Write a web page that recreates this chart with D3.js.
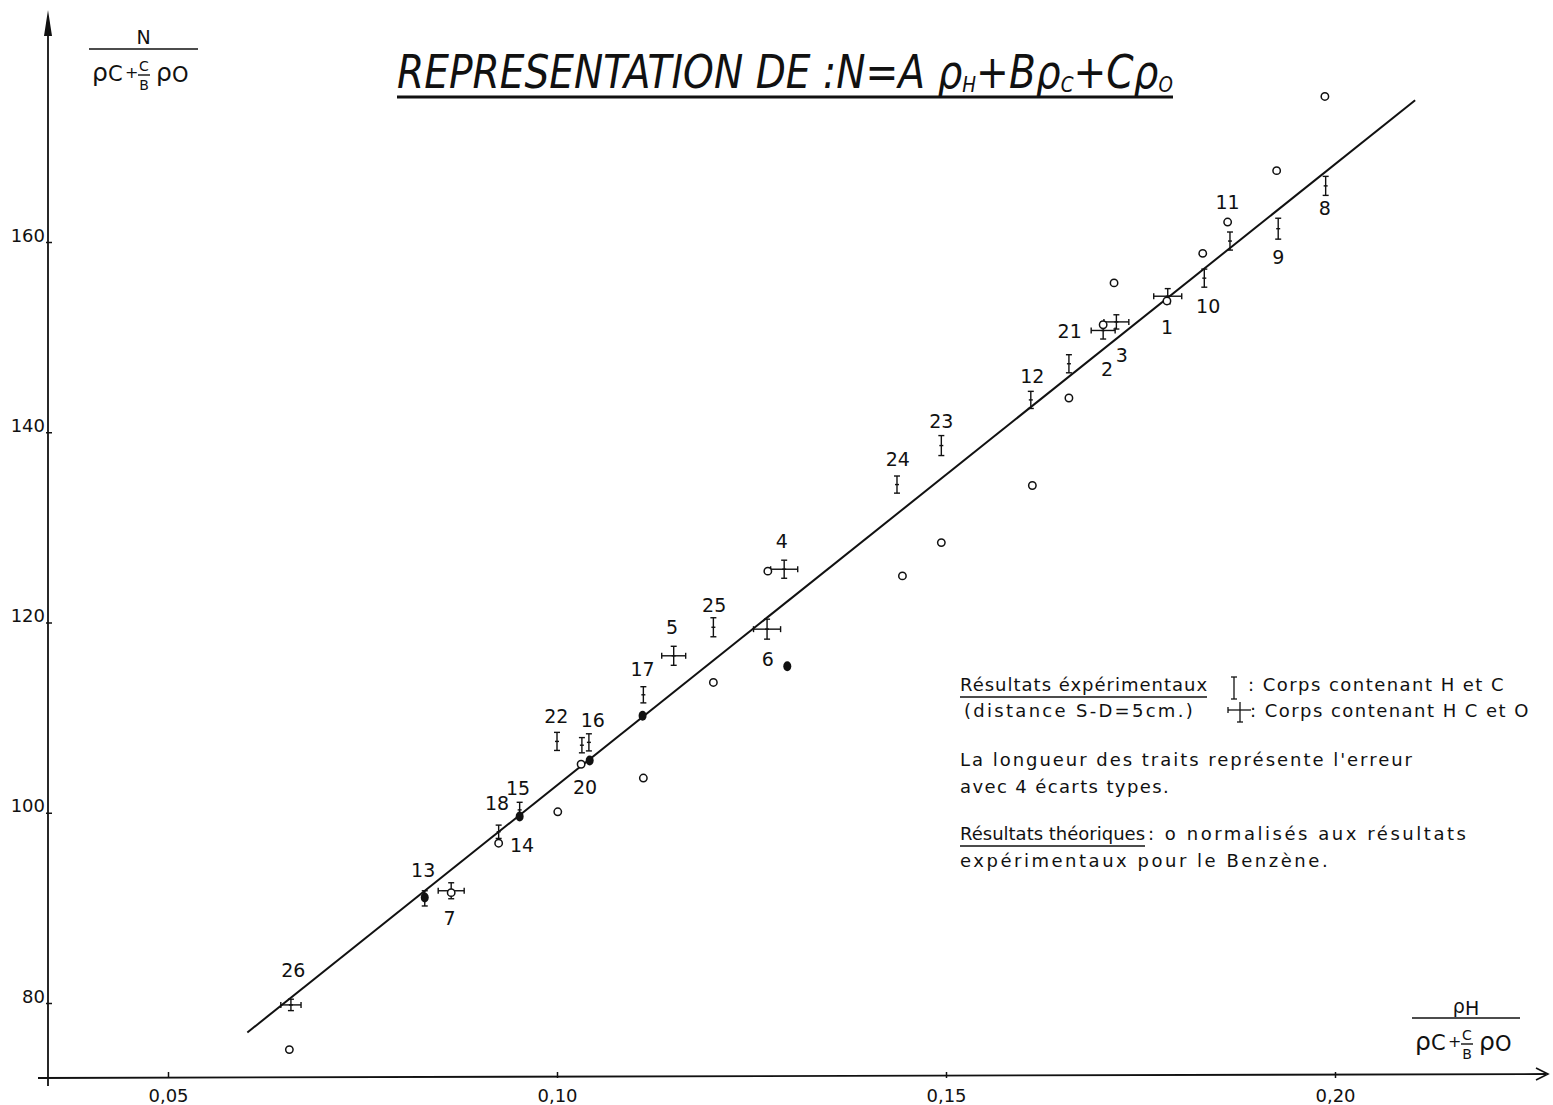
<!DOCTYPE html>
<html>
<head>
<meta charset="utf-8">
<script src="https://cdn.jsdelivr.net/npm/d3@7"></script>
<style>
  body { margin: 0; background: #fff; }
  svg { display: block; }
  text { font-family: "DejaVu Sans", sans-serif; fill: #111; }
</style>
</head>
<body>
<script>
// ---- data -------------------------------------------------------------
// Axis ticks
const xTicks = [0.05, 0.10, 0.15, 0.20];
const yTicks = [80, 100, 120, 140, 160];

// Experimental results, compounds containing H and C: [x, y, half error in y]
const expHC = [
  [0.0830, 91.0, 0.8],
  [0.0925, 98.0, 0.7],
  [0.0952, 100.3, 0.8],
  [0.1000, 107.5, 0.95],
  [0.1032, 107.1, 0.8],
  [0.1041, 107.4, 0.9],
  [0.1111, 112.4, 0.85],
  [0.1201, 119.5, 1.0],
  [0.1437, 134.5, 0.9],
  [0.1494, 138.6, 1.05],
  [0.1609, 143.4, 0.9],
  [0.1658, 147.2, 0.95],
  [0.1832, 156.2, 0.95],
  [0.1865, 160.1, 0.95],
  [0.1927, 161.4, 1.1],
  [0.1988, 165.9, 1.0]
];

// Experimental results, compounds containing H, C and O: [x, y, half error in y, half error in x]
const expHCO = [
  [0.0658, 79.8, 0.6, 0.0013],
  [0.0864, 91.8, 0.84, 0.00167],
  [0.1150, 116.5, 1.0, 0.00154],
  [0.1270, 119.3, 1.05, 0.00174],
  [0.1292, 125.6, 0.95, 0.00174],
  [0.1702, 150.7, 0.9, 0.00154],
  [0.1719, 151.6, 0.75, 0.0016],
  [0.1785, 154.3, 0.8, 0.0018]
];

// Theoretical results (normalised to benzene): open circles
const theory = [
  [0.0656, 75.1], [0.0864, 91.6], [0.0925, 96.8], [0.1001, 100.1],
  [0.1031, 105.1], [0.1111, 103.65], [0.1201, 113.7], [0.1271, 125.4],
  [0.1444, 124.9], [0.1494, 128.4], [0.1611, 134.4], [0.1658, 143.6],
  [0.1702, 151.3], [0.1716, 155.7], [0.1784, 153.8], [0.1830, 158.8],
  [0.1862, 162.1], [0.1925, 167.5], [0.1987, 175.3]
];

// Theoretical points that fall on top of the experimental ones (solid)
const theoryOnExp = [
  [0.0830, 91.1], [0.0952, 99.6], [0.1042, 105.5], [0.1110, 110.2], [0.1296, 115.4]
];

// Fitted straight line N = A ρH + B ρC + C ρO, end points
const fitLine = [[0.0602, 76.9], [0.2103, 174.9]];

// Compound numbers: [label, x, y]
const compoundLabels = [
  ["26", 0.0661, 83.5], ["13", 0.0828, 94.0], ["7", 0.0862, 88.9],
  ["18", 0.0923, 101.0], ["15", 0.0950, 102.6], ["14", 0.0955, 96.6],
  ["22", 0.0999, 110.2], ["16", 0.1046, 109.8], ["20", 0.1036, 102.7],
  ["17", 0.1110, 115.1], ["5", 0.1148, 119.5], ["25", 0.1202, 121.8],
  ["4", 0.1289, 128.6], ["6", 0.1271, 116.2], ["24", 0.1438, 137.2],
  ["23", 0.1494, 141.2], ["12", 0.1611, 145.9], ["21", 0.1659, 150.6],
  ["2", 0.1707, 146.6], ["3", 0.1726, 148.1], ["1", 0.1784, 151.1],
  ["10", 0.1837, 153.3], ["11", 0.1862, 164.2], ["9", 0.1927, 158.4],
  ["8", 0.1987, 163.6]
];

// ---- drawing ----------------------------------------------------------
const W = 1553, H = 1105;
const svg = d3.select("body").append("svg").attr("width", W).attr("height", H);

const x = d3.scaleLinear().domain([0.05, 0.20]).range([168, 1335]);
const y = d3.scaleLinear().domain([80, 160]).range([1003, 242]);

const frFormat = d3.formatLocale({decimal: ",", thousands: " ", grouping: [3], currency: ["", ""]}).format(".2f");

const axisX0 = 48, axisY0 = 1076;

// Axes lines with arrows
svg.append("line").attr("x1", axisX0).attr("y1", 1086).attr("x2", axisX0).attr("y2", 22)
  .attr("stroke", "#111").attr("stroke-width", 1.8);
svg.append("path").attr("d", `M${axisX0 - 4},${36} L${axisX0},${10} L${axisX0 + 4},${36} Z`).attr("fill", "#111");

svg.append("line").attr("x1", 38).attr("y1", axisY0 + 2).attr("x2", 1546).attr("y2", axisY0 - 2)
  .attr("stroke", "#111").attr("stroke-width", 1.8);
svg.append("path").attr("d", `M1536,${axisY0 - 8} L1548,${axisY0 - 2} L1536,${axisY0 + 4}`)
  .attr("fill", "none").attr("stroke", "#111").attr("stroke-width", 1.6);

// Y axis ticks via d3 axis
const yAxis = d3.axisLeft(y).tickValues(yTicks).tickSize(0).tickPadding(3).tickFormat(d3.format("d"));
const gy = svg.append("g").attr("transform", `translate(${axisX0},0)`).call(yAxis)
  .attr("font-size", 18).attr("font-family", "DejaVu Sans, sans-serif");
gy.select(".domain").remove();
gy.selectAll(".tick text").attr("dy", "-0.05em").attr("fill", "#111");
gy.selectAll(".tick").append("line").attr("x1", -2).attr("x2", 4).attr("stroke", "#111").attr("stroke-width", 1.5);

// X axis ticks via d3 axis
const xAxis = d3.axisBottom(x).tickValues(xTicks).tickSize(0).tickPadding(13).tickFormat(frFormat);
const gx = svg.append("g").attr("transform", `translate(0,${axisY0})`).call(xAxis)
  .attr("font-size", 18).attr("font-family", "DejaVu Sans, sans-serif");
gx.select(".domain").remove();
gx.selectAll(".tick text").attr("fill", "#111");
gx.selectAll(".tick").append("line").attr("y1", -4).attr("y2", 2).attr("stroke", "#111").attr("stroke-width", 1.5);

// Fitted line
svg.append("path").datum(fitLine)
  .attr("d", d3.line().x(d => x(d[0])).y(d => y(d[1])))
  .attr("fill", "none").attr("stroke", "#111").attr("stroke-width", 2);

// Error bars
const cap = 3;
const gErr = svg.append("g").attr("stroke", "#111").attr("stroke-width", 1.4).attr("fill", "none");
function vBar(g, d) {
  const cx = x(d[0]), y1 = y(d[1] + d[2]), y2 = y(d[1] - d[2]), cy = y(d[1]);
  g.append("line").attr("x1", cx).attr("x2", cx).attr("y1", y1).attr("y2", y2);
  g.append("line").attr("x1", cx - cap).attr("x2", cx + cap).attr("y1", y1).attr("y2", y1);
  g.append("line").attr("x1", cx - cap).attr("x2", cx + cap).attr("y1", y2).attr("y2", y2);
  g.append("line").attr("x1", cx - 2).attr("x2", cx + 2).attr("y1", cy).attr("y2", cy);
}
function hBar(g, d) {
  const cy = y(d[1]), x1 = x(d[0] - d[3]), x2 = x(d[0] + d[3]);
  g.append("line").attr("x1", x1).attr("x2", x2).attr("y1", cy).attr("y2", cy);
  g.append("line").attr("x1", x1).attr("x2", x1).attr("y1", cy - cap).attr("y2", cy + cap);
  g.append("line").attr("x1", x2).attr("x2", x2).attr("y1", cy - cap).attr("y2", cy + cap);
}
expHC.forEach(d => vBar(gErr, d));
expHCO.forEach(d => { vBar(gErr, d); hBar(gErr, d); });

// Theoretical circles
svg.append("g").selectAll("circle").data(theory).join("circle")
  .attr("cx", d => x(d[0])).attr("cy", d => y(d[1])).attr("r", 3.7)
  .attr("fill", "#fff").attr("stroke", "#111").attr("stroke-width", 1.5);
svg.append("g").selectAll("ellipse").data(theoryOnExp).join("ellipse")
  .attr("cx", d => x(d[0])).attr("cy", d => y(d[1])).attr("rx", 4).attr("ry", 5)
  .attr("fill", "#111");

// Compound numbers
svg.append("g").selectAll("text").data(compoundLabels).join("text")
  .attr("x", d => x(d[1])).attr("y", d => y(d[2]))
  .attr("text-anchor", "middle").attr("dominant-baseline", "central")
  .attr("font-size", 19).text(d => d[0]);

// Title, squeezed horizontally to the width of its underline
const titleG = svg.append("g");
const title = titleG.append("text").attr("x", 0).attr("y", 0)
  .attr("font-size", 47).attr("font-style", "italic");
title.append("tspan").text("REPRESENTATION DE :N=A ρ");
title.append("tspan").attr("font-size", 22).attr("dy", 4).text("H");
title.append("tspan").attr("dy", -4).text("+Bρ");
title.append("tspan").attr("font-size", 22).attr("dy", 4).text("C");
title.append("tspan").attr("dy", -4).text("+Cρ");
title.append("tspan").attr("font-size", 22).attr("dy", 4).text("O");
const tw = title.node().getComputedTextLength();
titleG.attr("transform", `translate(397,88) scale(${776 / tw},1)`);
svg.append("line").attr("x1", 397).attr("x2", 1173).attr("y1", 97).attr("y2", 97)
  .attr("stroke", "#111").attr("stroke-width", 3);

// Axis quantities:  N / (ρC + C/B ρO)  and  ρH / (ρC + C/B ρO)
function quotient(g, num, x0, x1, yBar) {
  const mid = (x0 + x1) / 2;
  g.append("text").attr("x", mid).attr("y", yBar - 5).attr("text-anchor", "middle")
    .attr("font-size", 19).html(num);
  g.append("line").attr("x1", x0).attr("x2", x1).attr("y1", yBar).attr("y2", yBar)
    .attr("stroke", "#111").attr("stroke-width", 1.6);
  const by = yBar + 32;
  g.append("text").attr("x", x0 + 3).attr("y", by).attr("font-size", 25).text("ρ");
  g.append("text").attr("x", x0 + 19).attr("y", by).attr("font-size", 21).text("C");
  g.append("text").attr("x", x0 + 36).attr("y", by - 3).attr("font-size", 16).text("+");
  g.append("text").attr("x", x0 + 55).attr("y", by - 10).attr("text-anchor", "middle").attr("font-size", 14).text("C");
  g.append("line").attr("x1", x0 + 49).attr("x2", x0 + 61).attr("y1", by - 6).attr("y2", by - 6)
    .attr("stroke", "#111").attr("stroke-width", 1.4);
  g.append("text").attr("x", x0 + 55).attr("y", by + 9).attr("text-anchor", "middle").attr("font-size", 14).text("B");
  g.append("text").attr("x", x0 + 67).attr("y", by).attr("font-size", 25).text("ρ");
  g.append("text").attr("x", x0 + 83).attr("y", by + 1).attr("font-size", 21).text("O");
}
quotient(svg.append("g"), "N", 89, 198, 49);
quotient(svg.append("g"), "ρ<tspan font-size='19' dy='2'>H</tspan>", 1412, 1520, 1018);

// Legend: each line spaced out so that it spans its measured width
const lg = svg.append("g");
function ltext(tx, ty, s, width) {
  const t = lg.append("text").attr("x", tx).attr("y", ty).attr("font-size", 18).text(s);
  const len = t.node().getComputedTextLength();
  const ls = Math.max(-1, Math.min(3, (width - len) / Math.max(1, s.length - 1)));
  t.attr("letter-spacing", ls.toFixed(2));
  return t;
}
function uline(x1, x2, yy) {
  lg.append("line").attr("x1", x1).attr("x2", x2).attr("y1", yy).attr("y2", yy)
    .attr("stroke", "#111").attr("stroke-width", 1.3);
}
ltext(960, 691, "Résultats éxpérimentaux", 247);
uline(960, 1207, 697);
ltext(1248, 691, ": Corps contenant  H et C", 257);
ltext(964, 717, "(distance  S-D=5cm.)", 231);
ltext(1250, 717, ": Corps contenant  H C et O", 280);
ltext(960, 766, "La longueur des traits représente l'erreur", 452);
ltext(960, 793, "avec 4 écarts  types.", 210);
ltext(960, 840, "Résultats théoriques", 185);
uline(960, 1145, 846);
ltext(1148, 840, ": o normalisés aux résultats", 318);
ltext(960, 867, "expérimentaux  pour le Benzène.", 370);

// Legend symbols
const lsym = lg.append("g").attr("stroke", "#111").attr("stroke-width", 1.3);
lsym.append("line").attr("x1", 1234).attr("x2", 1234).attr("y1", 677).attr("y2", 699);
lsym.append("line").attr("x1", 1231).attr("x2", 1237).attr("y1", 677).attr("y2", 677);
lsym.append("line").attr("x1", 1231).attr("x2", 1237).attr("y1", 699).attr("y2", 699);
lsym.append("line").attr("x1", 1240).attr("x2", 1240).attr("y1", 702).attr("y2", 722);
lsym.append("line").attr("x1", 1237).attr("x2", 1243).attr("y1", 722).attr("y2", 722);
lsym.append("line").attr("x1", 1228).attr("x2", 1251).attr("y1", 710).attr("y2", 710);
lsym.append("line").attr("x1", 1228).attr("x2", 1228).attr("y1", 707).attr("y2", 713);
</script>
</body>
</html>
